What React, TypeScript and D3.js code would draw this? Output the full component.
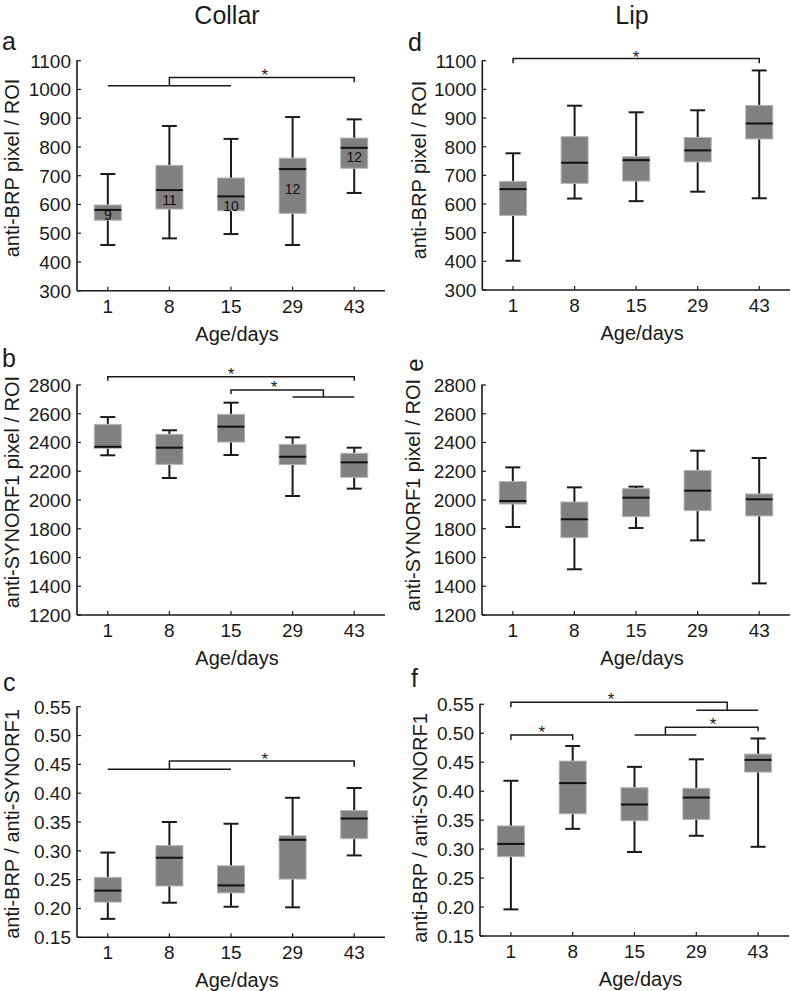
import React from "react";
import * as d3 from "d3";

const categories = ["1", "8", "15", "29", "43"];

// Panel a: Collar, anti-BRP pixel / ROI
const aLow = [459, 482, 497, 459, 640];
const aQ1 = [545, 584, 578, 569, 726];
const aMed = [581, 650, 628, 723, 797];
const aQ3 = [598, 736, 692, 761, 831];
const aHigh = [706, 873, 828, 904, 896];
const aCounts = ["9", "11", "10", "12", "12"];
const aCountAt = [563, 615, 596, 654, 764];

// Panel b: Collar, anti-SYNORF1 pixel / ROI
const bLow = [2311, 2153, 2313, 2028, 2079];
const bQ1 = [2360, 2248, 2403, 2246, 2158];
const bMed = [2370, 2364, 2510, 2301, 2262];
const bQ3 = [2526, 2457, 2596, 2387, 2325];
const bHigh = [2577, 2485, 2677, 2436, 2364];

// Panel c: Collar, anti-BRP / anti-SYNORF1
const cLow = [0.182, 0.21, 0.203, 0.202, 0.292];
const cQ1 = [0.211, 0.239, 0.227, 0.251, 0.321];
const cMed = [0.231, 0.288, 0.24, 0.319, 0.356];
const cQ3 = [0.254, 0.309, 0.274, 0.326, 0.37];
const cHigh = [0.297, 0.35, 0.347, 0.392, 0.409];

// Panel d: Lip, anti-BRP pixel / ROI
const dLow = [402, 619, 610, 643, 620];
const dQ1 = [560, 672, 680, 747, 827];
const dMed = [652, 744, 753, 787, 881];
const dQ3 = [679, 835, 765, 832, 944];
const dHigh = [777, 943, 920, 927, 1066];

// Panel e: Lip, anti-SYNORF1 pixel / ROI
const eLow = [1812, 1518, 1805, 1719, 1420];
const eQ1 = [1972, 1738, 1884, 1926, 1889];
const eMed = [1993, 1866, 2016, 2065, 2005];
const eQ3 = [2128, 1986, 2079, 2206, 2042];
const eHigh = [2227, 2088, 2093, 2343, 2292];

// Panel f: Lip, anti-BRP / anti-SYNORF1
const fLow = [0.196, 0.335, 0.295, 0.323, 0.304];
const fQ1 = [0.287, 0.361, 0.349, 0.351, 0.433];
const fMed = [0.309, 0.414, 0.377, 0.389, 0.454];
const fQ3 = [0.34, 0.452, 0.406, 0.405, 0.464];
const fHigh = [0.418, 0.478, 0.442, 0.455, 0.491];

// Tick values
const brpTicks = [300, 400, 500, 600, 700, 800, 900, 1000, 1100];
const synTicks = [1200, 1400, 1600, 1800, 2000, 2200, 2400, 2600, 2800];
const ratioTicks = [0.15, 0.2, 0.25, 0.3, 0.35, 0.4, 0.45, 0.5, 0.55];

// Significance annotations (positions as category index, levels in data units)
type Group = { from: number; to: number; level: number };
type Bracket = { left: number; leftEnd: number; right: number; rightEnd: number; top: number };
type Star = { at: number; level: number };

const aGroups: Group[] = [{ from: 0, to: 2, level: 1013 }];
const aBrackets: Bracket[] = [{ left: 1, leftEnd: 1013, right: 4, rightEnd: 1025, top: 1042 }];
const aStars: Star[] = [{ at: 2.55, level: 1062 }];

const bGroups: Group[] = [{ from: 3, to: 4, level: 2717 }];
const bBrackets: Bracket[] = [
  { left: 0, leftEnd: 2830, right: 4, rightEnd: 2830, top: 2858 },
  { left: 2, leftEnd: 2737, right: 3.5, rightEnd: 2717, top: 2765 },
];
const bStars: Star[] = [
  { at: 2, level: 2904 },
  { at: 2.7, level: 2812 },
];

const cGroups: Group[] = [{ from: 0, to: 2, level: 0.4417 }];
const cBrackets: Bracket[] = [{ left: 1, leftEnd: 0.4417, right: 4, rightEnd: 0.4457, top: 0.456 }];
const cStars: Star[] = [{ at: 2.55, level: 0.466 }];

const dGroups: Group[] = [];
const dBrackets: Bracket[] = [{ left: 0, leftEnd: 1091, right: 4, rightEnd: 1091, top: 1108 }];
const dStars: Star[] = [{ at: 2, level: 1126 }];

const eGroups: Group[] = [];
const eBrackets: Bracket[] = [];
const eStars: Star[] = [];

const fGroups: Group[] = [
  { from: 3, to: 4, level: 0.5396 },
  { from: 2, to: 3, level: 0.497 },
];
const fBrackets: Bracket[] = [
  { left: 0, leftEnd: 0.5448, right: 3.5, rightEnd: 0.5396, top: 0.5535 },
  { left: 0, leftEnd: 0.4884, right: 1, rightEnd: 0.4884, top: 0.497 },
  { left: 2.5, leftEnd: 0.497, right: 4, rightEnd: 0.5034, top: 0.5103 },
];
const fStars: Star[] = [
  { at: 1.62, level: 0.5644 },
  { at: 0.5, level: 0.5074 },
  { at: 3.27, level: 0.5212 },
];

const FONT = "'Liberation Sans', Arial, Helvetica, sans-serif";
const INK = "#1a1a1a";

type PanelProps = {
  x0: number;
  x1: number;
  top: number;
  bottom: number;
  domain: [number, number];
  ticks: number[];
  fmt: (v: number) => string;
  low: number[];
  q1: number[];
  med: number[];
  q3: number[];
  high: number[];
  groups: Group[];
  brackets: Bracket[];
  stars: Star[];
  title: string;
  titleX: number;
  titleY: number;
  counts?: string[];
  countAt?: number[];
};

function Panel(p: PanelProps) {
  const y = d3.scaleLinear().domain(p.domain).range([p.bottom, p.top]);
  const xb = d3.scaleBand<string>().domain(categories).range([p.x0, p.x1]);
  const step = xb.step();
  const xi = (i: number) => p.x0 + step * (i + 0.5);
  const bw = 27;
  const cap = 15;

  return (
    <g>
      {/* axes */}
      <line x1={p.x0} x2={p.x0} y1={p.top - 0.5} y2={p.bottom} stroke={INK} strokeWidth={1.6} />
      <line x1={p.x0} x2={p.x1} y1={p.bottom} y2={p.bottom} stroke={INK} strokeWidth={1.6} />
      {p.ticks.map((t) => (
        <g key={"yt" + t}>
          <line x1={p.x0} x2={p.x0 + 4} y1={y(t)} y2={y(t)} stroke={INK} strokeWidth={1.2} />
          <text
            x={p.x0 - 6}
            y={y(t)}
            dy="0.36em"
            textAnchor="end"
            fontSize={19}
            fontFamily={FONT}
            fill={INK}
          >
            {p.fmt(t)}
          </text>
        </g>
      ))}
      {categories.map((c) => {
        const cx = (xb(c) as number) + xb.bandwidth() / 2;
        return (
          <g key={"xt" + c}>
            <line x1={cx} x2={cx} y1={p.bottom} y2={p.bottom - 4} stroke={INK} strokeWidth={1.2} />
            <text
              x={cx}
              y={p.bottom + 22}
              textAnchor="middle"
              fontSize={19}
              fontFamily={FONT}
              fill={INK}
            >
              {c}
            </text>
          </g>
        );
      })}
      <text
        x={(p.x0 + p.x1) / 2 + 6}
        y={p.bottom + 50}
        textAnchor="middle"
        fontSize={20}
        fontFamily={FONT}
        fill={INK}
      >
        Age/days
      </text>
      <text
        transform={`translate(${p.titleX},${p.titleY}) rotate(-90)`}
        textAnchor="middle"
        dy="0.35em"
        fontSize={20}
        fontFamily={FONT}
        fill={INK}
      >
        {p.title}
      </text>

      {/* boxes */}
      {categories.map((c, i) => {
        const cx = (xb(c) as number) + xb.bandwidth() / 2;
        return (
          <g key={"bx" + c}>
            <line x1={cx} x2={cx} y1={y(p.q3[i])} y2={y(p.high[i])} stroke={INK} strokeWidth={2} />
            <line x1={cx} x2={cx} y1={y(p.q1[i])} y2={y(p.low[i])} stroke={INK} strokeWidth={2} />
            <line x1={cx - cap / 2} x2={cx + cap / 2} y1={y(p.high[i])} y2={y(p.high[i])} stroke={INK} strokeWidth={2} />
            <line x1={cx - cap / 2} x2={cx + cap / 2} y1={y(p.low[i])} y2={y(p.low[i])} stroke={INK} strokeWidth={2} />
            <rect
              x={cx - bw / 2}
              y={y(p.q3[i])}
              width={bw}
              height={y(p.q1[i]) - y(p.q3[i])}
              fill="#808080"
              stroke="#b4b4b4"
              strokeWidth={1}
            />
            <line x1={cx - bw / 2} x2={cx + bw / 2} y1={y(p.med[i])} y2={y(p.med[i])} stroke="#111" strokeWidth={2} />
            {p.counts && p.countAt ? (
              <text
                x={cx}
                y={y(p.countAt[i])}
                dy="0.36em"
                textAnchor="middle"
                fontSize={14}
                fontFamily={FONT}
                fill="#111"
              >
                {p.counts[i]}
              </text>
            ) : null}
          </g>
        );
      })}

      {/* significance */}
      {p.groups.map((g, k) => (
        <line key={"g" + k} x1={xi(g.from)} x2={xi(g.to)} y1={y(g.level)} y2={y(g.level)} stroke={INK} strokeWidth={1.5} />
      ))}
      {p.brackets.map((b, k) => (
        <path
          key={"br" + k}
          d={`M${xi(b.left)},${y(b.leftEnd)}V${y(b.top)}H${xi(b.right)}V${y(b.rightEnd)}`}
          fill="none"
          stroke={INK}
          strokeWidth={1.5}
        />
      ))}
      {p.stars.map((s, k) => (
        <text
          key={"s" + k}
          x={xi(s.at)}
          y={y(s.level) + 9.5}
          textAnchor="middle"
          fontSize={17}
          fontFamily={FONT}
          fill={INK}
        >
          *
        </text>
      ))}
    </g>
  );
}

const f0 = (v: number) => String(v);
const f2 = (v: number) => v.toFixed(2);

export default function App() {
  return (
    <svg
      width={791}
      height={991}
      viewBox="0 0 791 991"
      style={{ position: "absolute", left: 0, top: 0, background: "#fff" }}
    >
      <rect x={0} y={0} width={791} height={991} fill="#fff" />
      <text x={227} y={23.5} textAnchor="middle" fontSize={25} fontFamily={FONT} fill={INK}>
        Collar
      </text>
      <text x={632} y={23.5} textAnchor="middle" fontSize={25} fontFamily={FONT} fill={INK}>
        Lip
      </text>

      <text x={2} y={50} fontSize={25} fontFamily={FONT} fill={INK}>a</text>
      <text x={2} y={367} fontSize={25} fontFamily={FONT} fill={INK}>b</text>
      <text x={3} y={691} fontSize={25} fontFamily={FONT} fill={INK}>c</text>
      <text x={408} y={51} fontSize={25} fontFamily={FONT} fill={INK}>d</text>
      <text
        transform="translate(415,365) rotate(-90)"
        textAnchor="middle"
        dy="0.35em"
        fontSize={24}
        fontFamily={FONT}
        fill={INK}
      >
        e
      </text>
      <text x={411} y={687} fontSize={25} fontFamily={FONT} fill={INK}>f</text>

      <Panel
        x0={77} x1={385} top={60.7} bottom={290.7} domain={[300, 1100]}
        ticks={brpTicks} fmt={f0}
        low={aLow} q1={aQ1} med={aMed} q3={aQ3} high={aHigh}
        groups={aGroups} brackets={aBrackets} stars={aStars}
        title="anti-BRP pixel / ROI" titleX={12} titleY={168}
        counts={aCounts} countAt={aCountAt}
      />
      <Panel
        x0={77} x1={385} top={385} bottom={615} domain={[1200, 2800]}
        ticks={synTicks} fmt={f0}
        low={bLow} q1={bQ1} med={bMed} q3={bQ3} high={bHigh}
        groups={bGroups} brackets={bBrackets} stars={bStars}
        title="anti-SYNORF1 pixel / ROI" titleX={12} titleY={492}
      />
      <Panel
        x0={77} x1={385} top={706.7} bottom={937.3} domain={[0.15, 0.55]}
        ticks={ratioTicks} fmt={f2}
        low={cLow} q1={cQ1} med={cMed} q3={cQ3} high={cHigh}
        groups={cGroups} brackets={cBrackets} stars={cStars}
        title="anti-BRP / anti-SYNORF1" titleX={12} titleY={824}
      />
      <Panel
        x0={482.3} x1={790} top={60.7} bottom={290} domain={[300, 1100]}
        ticks={brpTicks} fmt={f0}
        low={dLow} q1={dQ1} med={dMed} q3={dQ3} high={dHigh}
        groups={dGroups} brackets={dBrackets} stars={dStars}
        title="anti-BRP pixel / ROI" titleX={419} titleY={170}
      />
      <Panel
        x0={482} x1={790} top={385} bottom={615} domain={[1200, 2800]}
        ticks={synTicks} fmt={f0}
        low={eLow} q1={eQ1} med={eMed} q3={eQ3} high={eHigh}
        groups={eGroups} brackets={eBrackets} stars={eStars}
        title="anti-SYNORF1 pixel / ROI" titleX={413} titleY={495}
      />
      <Panel
        x0={480} x1={789} top={704.3} bottom={936} domain={[0.15, 0.55]}
        ticks={ratioTicks} fmt={f2}
        low={fLow} q1={fQ1} med={fMed} q3={fQ3} high={fHigh}
        groups={fGroups} brackets={fBrackets} stars={fStars}
        title="anti-BRP / anti-SYNORF1" titleX={420} titleY={828}
      />
    </svg>
  );
}
